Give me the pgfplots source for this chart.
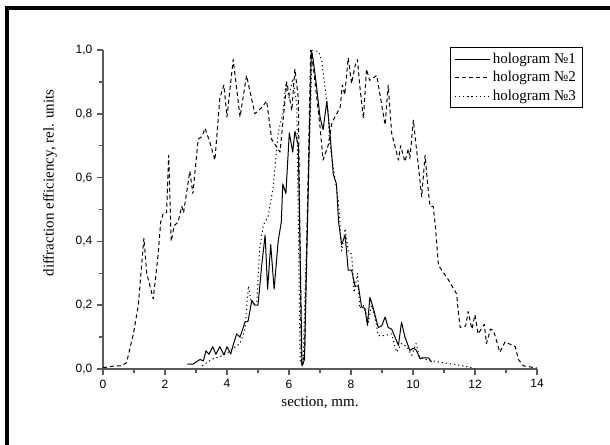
\documentclass[border=0pt]{standalone}
\usepackage{fontspec}
\setmainfont{Liberation Serif}
\newfontfamily\ticksans{Liberation Sans}
\usepackage{pgfplots}
\pgfplotsset{compat=1.18}
\definecolor{AxisGray}{HTML}{5A5A5A}

\begin{document}
\begin{tikzpicture}
% page = 610x444 px at 0.75pt per px, axis origin at px (103,369)
\useasboundingbox (-77.25pt,-56.25pt) rectangle (380.25pt,276.75pt);
\draw[line width=2.4pt] (-72pt,-80pt) -- (-72pt,270.75pt) -- (400pt,270.75pt);
\begin{axis}[
    scale only axis,
    width=325.5pt, height=239.25pt,
    xmin=0, xmax=14, ymin=0, ymax=1,
    axis lines=left,
    axis line style={-, draw=AxisGray, line width=1.5pt},
    xtick={0,2,...,14}, ytick={0,0.2,...,1.0},
    minor x tick num=1, minor y tick num=1,
    tick align=outside,
    major tick length=4.5pt, minor tick length=3pt,
    tick style={draw=AxisGray, line width=1.1pt},
    /pgf/number format/assume math mode=true,
    tick label style={font=\ticksans\fontsize{9}{10}\selectfont},
    yticklabel style={/pgf/number format/.cd, fixed, fixed zerofill, precision=1, use comma},
    label style={font=\fontsize{11.25}{13}\selectfont},
    xlabel={section, mm.},
    ylabel={diffraction efficiency, rel. units},
    xlabel style={at={(axis description cs:0.5,-0.107)}, anchor=center},
    ylabel style={at={(axis description cs:-0.122,0.583)}, anchor=center},
    legend image code/.code={\draw[#1] (0pt,0pt) -- (26pt,0pt);},
    legend style={at={(axis description cs:1.106,1.009)}, anchor=north east,
        draw=black, line width=0.8pt, font=\fontsize{11.25}{13}\selectfont,
        inner xsep=3pt, inner ysep=2pt, row sep=0.5pt, cells={anchor=west}},
    every axis plot/.append style={black, line width=0.75pt, line join=round},
]
\addplot[solid] coordinates {
(2.72,0.015)(2.9,0.015)(3.13,0.03)(3.24,0.025)(3.32,0.057)(3.42,0.046)(3.54,0.07)(3.64,0.046)
(3.77,0.07)(3.9,0.044)(4.0,0.07)(4.12,0.047)(4.2,0.075)(4.31,0.11)(4.42,0.10)(4.58,0.147)
(4.68,0.15)(4.8,0.215)(4.9,0.20)(5.0,0.2)(5.12,0.325)(5.23,0.42)(5.31,0.25)(5.41,0.39)
(5.52,0.25)(5.65,0.40)(5.75,0.46)(5.8,0.58)(5.9,0.55)(6.01,0.74)(6.12,0.68)(6.19,0.745)
(6.3,0.7)(6.42,0.01)(6.5,0.03)(6.72,1.0)(6.78,0.97)(6.89,0.885)(7.0,0.79)(7.1,0.75)
(7.22,0.84)(7.32,0.74)(7.43,0.61)(7.53,0.58)(7.6,0.46)(7.7,0.39)(7.81,0.42)(7.91,0.31)
(8.02,0.31)(8.13,0.26)(8.24,0.26)(8.34,0.195)(8.45,0.19)(8.53,0.137)(8.61,0.225)(8.72,0.19)
(8.88,0.13)(8.99,0.135)(9.1,0.163)(9.2,0.13)(9.31,0.125)(9.42,0.10)(9.53,0.074)(9.63,0.147)
(9.74,0.1)(9.9,0.058)(10.0,0.065)(10.1,0.06)(10.23,0.032)(10.3,0.035)(10.5,0.035)(10.6,0.022)
};
\addplot[dash pattern=on 3pt off 2.25pt] coordinates {
(0,0.004)(0.39,0.01)(0.6,0.01)(0.76,0.02)(0.98,0.11)(1.14,0.2)(1.25,0.33)(1.32,0.41)
(1.41,0.30)(1.62,0.22)(1.78,0.36)(1.86,0.46)(1.95,0.49)(2.05,0.49)(2.12,0.67)(2.2,0.40)
(2.3,0.45)(2.42,0.46)(2.54,0.51)(2.6,0.49)(2.8,0.62)(2.9,0.55)(3.07,0.72)(3.2,0.73)
(3.29,0.755)(3.45,0.71)(3.61,0.655)(3.77,0.85)(3.9,0.89)(4.0,0.79)(4.2,0.97)(4.42,0.79)
(4.63,0.92)(4.9,0.80)(5.12,0.82)(5.28,0.84)(5.44,0.72)(5.71,0.68)(5.93,0.90)(6.09,0.81)
(6.19,0.94)(6.3,0.85)(6.4,0.02)(6.5,0.04)(6.7,1.0)(6.78,0.95)(7.0,0.76)(7.1,0.655)
(7.26,0.70)(7.38,0.77)(7.48,0.79)(7.65,0.82)(7.72,0.89)(7.8,0.86)(7.91,0.975)(8.02,0.895)
(8.13,0.95)(8.21,0.97)(8.28,0.89)(8.4,0.785)(8.5,0.94)(8.6,0.905)(8.83,0.92)(8.9,0.88)
(9.1,0.765)(9.2,0.89)(9.31,0.74)(9.53,0.655)(9.6,0.70)(9.74,0.65)(9.85,0.69)(9.9,0.66)
(10.01,0.78)(10.18,0.63)(10.28,0.54)(10.39,0.67)(10.47,0.58)(10.55,0.51)(10.65,0.51)(10.72,0.45)
(10.82,0.325)(11.14,0.28)(11.41,0.235)(11.45,0.19)(11.52,0.13)(11.7,0.135)(11.78,0.18)(11.9,0.125)
(12.0,0.17)(12.1,0.11)(12.3,0.14)(12.37,0.08)(12.5,0.125)(12.6,0.12)(12.8,0.053)(12.97,0.085)
(13.3,0.07)(13.4,0.03)(13.56,0.01)(14,0.003)
};
\addplot[dash pattern=on 0.9pt off 2.2pt] coordinates {
(3.2,0.01)(3.5,0.03)(3.8,0.04)(4.0,0.05)(4.2,0.065)(4.42,0.08)(4.58,0.125)(4.69,0.26)
(4.8,0.2)(4.96,0.21)(5.06,0.38)(5.17,0.45)(5.33,0.48)(5.49,0.57)(5.65,0.74)(5.8,0.8)
(5.9,0.895)(6.0,0.85)(6.12,0.91)(6.25,0.83)(6.36,0.02)(6.45,0.01)(6.6,0.5)(6.75,1.0)
(6.95,0.995)(7.05,0.97)(7.16,0.885)(7.27,0.8)(7.3,0.72)(7.4,0.65)(7.59,0.53)(7.65,0.45)
(7.7,0.37)(7.81,0.44)(7.91,0.37)(8.02,0.36)(8.1,0.24)(8.21,0.30)(8.28,0.19)(8.4,0.2)
(8.56,0.147)(8.66,0.2)(8.77,0.165)(8.88,0.105)(9.1,0.105)(9.31,0.11)(9.47,0.053)(9.63,0.08)
(9.8,0.07)(9.96,0.043)(10.1,0.08)(10.2,0.04)(10.4,0.03)(10.82,0.022)(11.3,0.015)(11.7,0.008)
(12.0,0.002)
};
\legend{hologram №1, hologram №2, hologram №3}
\end{axis}
\end{tikzpicture}
\end{document}
